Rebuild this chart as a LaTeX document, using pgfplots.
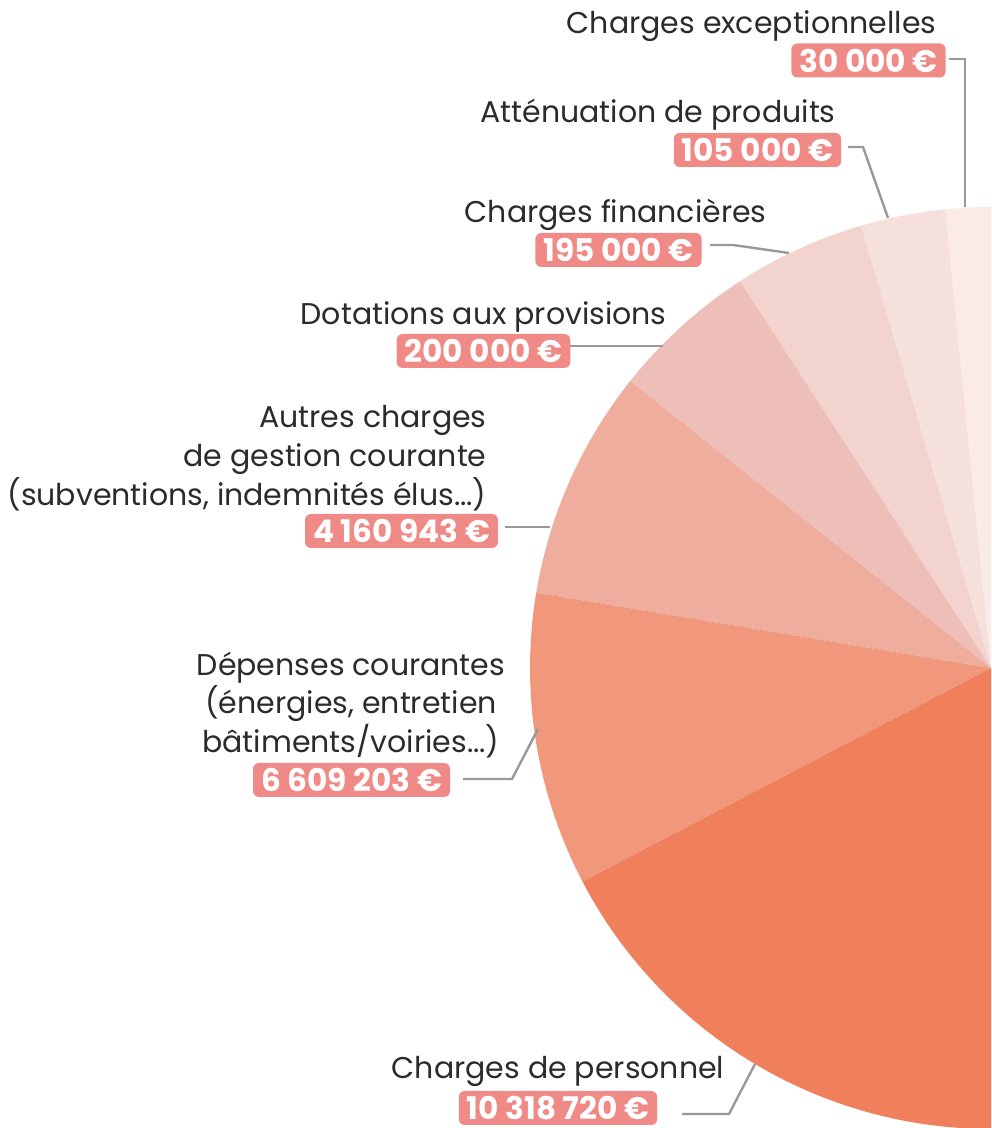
\documentclass[border=0pt]{standalone}
\usepackage{pgfplots}
\pgfplotsset{compat=1.18}
\usepackage{pgfplotstable}
\usepackage{fontspec}
\setmainfont{Poppins}
\definecolor{c1}{HTML}{FAEBE6}
\definecolor{c2}{HTML}{F5E0DB}
\definecolor{c3}{HTML}{F2D3CE}
\definecolor{c4}{HTML}{EEBFB8}
\definecolor{c5}{HTML}{EEAD9D}
\definecolor{c6}{HTML}{F0977C}
\definecolor{c7}{HTML}{F0805B}
\definecolor{badge}{HTML}{EF8A86}
\definecolor{txt}{HTML}{2B2B2B}
\definecolor{lead}{HTML}{999999}

% value (euros), start and end angle of each slice as drawn (degrees)
\pgfplotstableread{
label value start end col
exc 30000 90 95.7 c1
att 105000 95.7 106.4 c2
fin 195000 106.4 123.0 c3
dot 200000 123.0 141.5 c4
aut 4160943 141.5 170.6 c5
dep 6609203 170.6 207.6 c6
per 10318720 207.6 270 c7
}\slices

\tikzset{
  lbl/.style={font=\fontsize{15.0}{18}\selectfont, text=txt, inner sep=0pt},
  bdg/.style={font=\fontsize{15.6}{18}\selectfont\bfseries, text=white, fill=badge,
     rounded corners=3pt, inner xsep=4pt, minimum height=17pt, inner ysep=0pt},
  ld/.style={draw=lead, line width=1.2pt}
}

\begin{document}
\begin{tikzpicture}
\begin{axis}[
  x=0.5pt, y=0.5pt,
  xmin=0, xmax=991, ymin=0, ymax=1128,
  hide axis, clip=true,
]
\pgfplotsinvokeforeach{0,...,6}{
  \pgfplotstablegetelem{#1}{start}\of\slices \let\s\pgfplotsretval
  \pgfplotstablegetelem{#1}{end}\of\slices \let\e\pgfplotsretval
  \pgfplotstablegetelem{#1}{col}\of\slices \let\c\pgfplotsretval
  \edef\temp{\noexpand\fill[\c] (axis cs:991,460) -- (axis cs:{991+461*cos(\s)},{460+461*sin(\s)})
     arc[start angle=\s, end angle=\e, radius=230.5pt] -- cycle;}
  \temp
}
% labels
\node[lbl, anchor=base east] at (axis cs:937,1094) {Charges exceptionnelles};
\node[bdg] at (axis cs:868.5,1067.5) {30 000 €};
\draw[ld] (axis cs:949,1069) -- (axis cs:965,1069) -- (axis cs:965,921);

\node[lbl, anchor=base east] at (axis cs:836,1005) {Atténuation de produits};
\node[bdg] at (axis cs:757.5,978) {105 000 €};
\draw[ld] (axis cs:848,981) -- (axis cs:863,981) -- (axis cs:888,910);

\node[lbl, anchor=base east] at (axis cs:767,905) {Charges financières};
\node[bdg] at (axis cs:618.5,878) {195 000 €};
\draw[ld] (axis cs:710,883) -- (axis cs:733,883) -- (axis cs:789,875);

\node[lbl, anchor=base east] at (axis cs:667,803) {Dotations aux provisions};
\node[bdg] at (axis cs:483.5,777) {200 000 €};
\draw[ld] (axis cs:570,782) -- (axis cs:663,782);

\node[lbl, anchor=base east] at (axis cs:487,700) {Autres charges};
\node[lbl, anchor=base east] at (axis cs:487,661) {de gestion courante};
\node[lbl, anchor=base east] at (axis cs:487,622) {(subventions, indemnités élus...)};
\node[bdg] at (axis cs:401.5,597) {4 160 943 €};
\draw[ld] (axis cs:505,601) -- (axis cs:550,601);

\node[lbl, anchor=base] at (axis cs:351,452) {Dépenses courantes};
\node[lbl, anchor=base] at (axis cs:351,414) {(énergies, entretien};
\node[lbl, anchor=base] at (axis cs:351,375) {bâtiments/voiries...)};
\node[bdg] at (axis cs:351.5,348) {6 609 203 €};
\draw[ld] (axis cs:463,349) -- (axis cs:512,349) -- (axis cs:538,399);

\node[lbl, anchor=base] at (axis cs:558,49) {Charges de personnel};
\node[bdg] at (axis cs:558,20) {10 318 720 €};
\draw[ld] (axis cs:682,14) -- (axis cs:729,14) -- (axis cs:755,64);
\end{axis}
\pgfresetboundingbox
\path (current axis.south west) rectangle (current axis.north east);
\end{tikzpicture}
\end{document}
